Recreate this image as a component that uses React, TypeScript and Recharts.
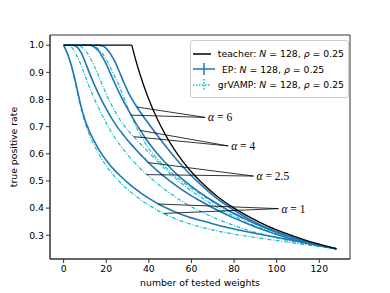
import React from 'react';
import {
  LineChart,
  Line,
  XAxis,
  YAxis,
  Legend,
  ReferenceLine,
  ReferenceArea,
  ReferenceDot,
} from 'recharts';

// number of tested weights
const xs = [0, 2, 4, 6, 8, 10, 12, 14, 16, 18, 20, 22, 24, 26, 28, 30, 32, 34, 36, 38, 40, 44, 48, 52, 56, 60, 64, 72, 80, 88, 96, 104, 112, 120, 128];

// true positive rate
const teacher = [1, 1, 1, 1, 1, 1, 1, 1, 1, 1, 1, 1, 1, 1, 1, 1, 1, 0.941, 0.889, 0.842, 0.8, 0.727, 0.667, 0.615, 0.571, 0.533, 0.5, 0.444, 0.4, 0.364, 0.333, 0.308, 0.286, 0.267, 0.25];

const ep6 = [1, 1, 1, 1, 1, 1, 1, 1, 1, 0.998, 0.988, 0.968, 0.94, 0.905, 0.867, 0.832, 0.802, 0.777, 0.753, 0.731, 0.71, 0.667, 0.627, 0.588, 0.552, 0.519, 0.489, 0.435, 0.392, 0.355, 0.325, 0.302, 0.281, 0.264, 0.25];
const gr6 = [1, 1, 1, 1, 1, 1, 1, 0.997, 0.988, 0.972, 0.948, 0.918, 0.885, 0.852, 0.812, 0.772, 0.735, 0.701, 0.67, 0.643, 0.619, 0.58, 0.549, 0.521, 0.496, 0.473, 0.452, 0.413, 0.378, 0.348, 0.322, 0.299, 0.279, 0.263, 0.25];
const ep4 = [1, 1, 1, 1, 1, 1, 1, 0.995, 0.982, 0.96, 0.93, 0.895, 0.86, 0.826, 0.795, 0.766, 0.738, 0.711, 0.686, 0.662, 0.64, 0.6, 0.565, 0.533, 0.505, 0.48, 0.457, 0.416, 0.38, 0.35, 0.323, 0.3, 0.28, 0.263, 0.25];
const gr4 = [1, 1, 1, 1, 0.995, 0.982, 0.96, 0.93, 0.895, 0.857, 0.82, 0.787, 0.757, 0.731, 0.708, 0.688, 0.67, 0.653, 0.637, 0.621, 0.605, 0.572, 0.541, 0.513, 0.487, 0.463, 0.442, 0.403, 0.37, 0.34, 0.316, 0.295, 0.276, 0.261, 0.25];
const ep25 = [1, 1, 1, 0.995, 0.975, 0.94, 0.9, 0.862, 0.827, 0.795, 0.765, 0.738, 0.713, 0.69, 0.67, 0.65, 0.632, 0.615, 0.598, 0.582, 0.566, 0.537, 0.511, 0.487, 0.465, 0.445, 0.427, 0.393, 0.363, 0.337, 0.314, 0.293, 0.275, 0.261, 0.25];
const gr25 = [1, 1, 0.99, 0.965, 0.93, 0.888, 0.848, 0.81, 0.775, 0.743, 0.713, 0.685, 0.66, 0.637, 0.616, 0.597, 0.579, 0.562, 0.546, 0.531, 0.517, 0.49, 0.465, 0.443, 0.423, 0.405, 0.389, 0.36, 0.336, 0.315, 0.298, 0.283, 0.27, 0.259, 0.25];
const ep1 = [1, 0.965, 0.915, 0.85, 0.78, 0.725, 0.685, 0.652, 0.623, 0.598, 0.576, 0.556, 0.539, 0.523, 0.508, 0.494, 0.481, 0.469, 0.457, 0.446, 0.436, 0.417, 0.401, 0.387, 0.375, 0.364, 0.355, 0.338, 0.323, 0.31, 0.298, 0.286, 0.274, 0.262, 0.25];
const gr1 = [1, 0.965, 0.91, 0.842, 0.772, 0.715, 0.672, 0.637, 0.607, 0.58, 0.556, 0.535, 0.516, 0.499, 0.483, 0.469, 0.456, 0.444, 0.432, 0.421, 0.411, 0.392, 0.376, 0.362, 0.35, 0.34, 0.331, 0.316, 0.304, 0.294, 0.285, 0.276, 0.267, 0.259, 0.25];

const xTicks = [0, 20, 40, 60, 80, 100, 120];
const yTicks = [0.3, 0.4, 0.5, 0.6, 0.7, 0.8, 0.9, 1.0];

// annotation: where each pointer line touches the EP / grVAMP curve, and where the label sits
const alphaLabels = ['6', '4', '2.5', '1'];
const epAnchorX = [34.4, 36.0, 39.8, 44.5];
const grAnchorX = [31.6, 32.8, 39.1, 46.9];
const labelX = [66.4, 77.2, 89.1, 100.8];
const labelY = [0.734, 0.629, 0.518, 0.398];

const EP_COLOR = '#1f77b4';
const GR_COLOR = '#17becf';
const FONT = '"DejaVu Sans", sans-serif';
const SERIF = '"Liberation Serif", "DejaVu Serif", serif';

const data = xs.map((x, i) => ({
  x,
  teacherFlat: x <= 32 ? teacher[i] : null,
  teacherTail: x >= 32 ? teacher[i] : null,
  ep6: ep6[i],
  gr6: gr6[i],
  ep4: ep4[i],
  gr4: gr4[i],
  ep25: ep25[i],
  gr25: gr25[i],
  ep1: ep1[i],
  gr1: gr1[i],
}));

const epSeries = [ep6, ep4, ep25, ep1];
const grSeries = [gr6, gr4, gr25, gr1];

function valueAt(series: number[], x: number) {
  for (let i = 1; i < xs.length; i++) {
    if (x <= xs[i]) {
      const t = (x - xs[i - 1]) / (xs[i] - xs[i - 1]);
      return series[i - 1] + t * (series[i] - series[i - 1]);
    }
  }
  return series[series.length - 1];
}

const legendRows = [
  { name: 'teacher', kind: 'teacher' },
  { name: 'EP', kind: 'ep' },
  { name: 'grVAMP', kind: 'gr' },
];

function LegendIcon({ kind }: { kind: string }) {
  if (kind === 'teacher') {
    return (
      <svg width={22} height={12}>
        <line x1={0} y1={6} x2={22} y2={6} stroke="#000" strokeWidth={1.5} />
      </svg>
    );
  }
  const color = kind === 'ep' ? EP_COLOR : GR_COLOR;
  const dash = kind === 'ep' ? undefined : '1.5 1.5';
  return (
    <svg width={22} height={12}>
      <line x1={0} y1={6} x2={22} y2={6} stroke={color} strokeWidth={1.5} strokeDasharray={dash} />
      <line x1={11} y1={0} x2={11} y2={12} stroke={color} strokeWidth={1.5} strokeDasharray={dash} />
    </svg>
  );
}

function LegendBox() {
  return (
    <div
      style={{
        boxSizing: 'border-box',
        width: 159,
        height: 58,
        border: '1px solid #cccccc',
        borderRadius: 3,
        background: 'rgba(255,255,255,0.8)',
        padding: '0px 4px 0px 2px',
        fontFamily: FONT,
        fontSize: 9.3,
        color: '#000',
        display: 'flex',
        flexDirection: 'column',
        justifyContent: 'center',
      }}
    >
      {legendRows.map((row) => (
        <div key={row.name} style={{ display: 'flex', alignItems: 'center', height: 15.5 }}>
          <LegendIcon kind={row.kind} />
          <span style={{ marginLeft: 7, whiteSpace: 'nowrap' }}>
            {row.name}: <i>N</i> = 128, <i>ρ</i> = 0.25
          </span>
        </div>
      ))}
    </div>
  );
}

function alphaText(label: string) {
  return (p: any) => {
    const vb = p.viewBox || {};
    return (
      <text x={vb.x + 3} y={vb.y} dy="0.35em" fontFamily={SERIF} fontSize={11.5} fill="#000">
        <tspan fontStyle="italic">α</tspan>
        <tspan> = {label}</tspan>
      </text>
    );
  };
}

export default function App() {
  return (
    <div style={{ position: 'fixed', left: 0, top: 0, width: 390, height: 293, background: '#fff' }}>
      <LineChart width={390} height={293} data={data} margin={{ top: 35, right: 40, bottom: 0, left: 0 }}>
        <XAxis
          dataKey="x"
          type="number"
          domain={[-6.4, 134.4]}
          ticks={xTicks}
          allowDataOverflow
          height={34}
          tickSize={4}
          tickMargin={2}
          stroke="#333"
          tick={{ fontSize: 9.3, fill: '#000', fontFamily: FONT }}
          label={{ value: 'number of tested weights', position: 'insideBottom', offset: 7, fontSize: 9.3, fill: '#000', fontFamily: FONT }}
        />
        <YAxis
          type="number"
          domain={[0.2125, 1.0375]}
          ticks={yTicks}
          allowDataOverflow
          width={50}
          tickSize={4}
          tickMargin={2}
          stroke="#333"
          tickFormatter={(v: number) => v.toFixed(1)}
          tick={{ fontSize: 9.3, fill: '#000', fontFamily: FONT }}
          label={{
            value: 'true positive rate',
            angle: -90,
            position: 'insideLeft',
            offset: 14,
            fontSize: 9.3,
            fill: '#000',
            fontFamily: FONT,
            style: { textAnchor: 'middle' },
          }}
        />
        <ReferenceArea x1={-6.4} x2={134.4} y1={0.2125} y2={1.0375} fill="none" stroke="#333" strokeWidth={1} ifOverflow="visible" />

        <Line dataKey="gr1" type="monotone" stroke={GR_COLOR} strokeWidth={1.2} strokeDasharray="4 1.6 1 1.6" dot={false} isAnimationActive={false} />
        <Line dataKey="gr25" type="monotone" stroke={GR_COLOR} strokeWidth={1.2} strokeDasharray="4 1.6 1 1.6" dot={false} isAnimationActive={false} />
        <Line dataKey="gr4" type="monotone" stroke={GR_COLOR} strokeWidth={1.2} strokeDasharray="4 1.6 1 1.6" dot={false} isAnimationActive={false} />
        <Line dataKey="gr6" type="monotone" stroke={GR_COLOR} strokeWidth={1.2} strokeDasharray="4 1.6 1 1.6" dot={false} isAnimationActive={false} />
        <Line dataKey="ep1" type="monotone" stroke={EP_COLOR} strokeWidth={1.6} dot={false} isAnimationActive={false} />
        <Line dataKey="ep25" type="monotone" stroke={EP_COLOR} strokeWidth={1.6} dot={false} isAnimationActive={false} />
        <Line dataKey="ep4" type="monotone" stroke={EP_COLOR} strokeWidth={1.6} dot={false} isAnimationActive={false} />
        <Line dataKey="ep6" type="monotone" stroke={EP_COLOR} strokeWidth={1.6} dot={false} isAnimationActive={false} />
        <Line dataKey="teacherFlat" type="linear" stroke="#000" strokeWidth={1.3} dot={false} isAnimationActive={false} />
        <Line dataKey="teacherTail" type="monotone" stroke="#000" strokeWidth={1.3} dot={false} isAnimationActive={false} />

        {alphaLabels.map((a, i) => (
          <ReferenceLine
            key={`ep-${a}`}
            segment={[
              { x: epAnchorX[i], y: valueAt(epSeries[i], epAnchorX[i]) },
              { x: labelX[i], y: labelY[i] },
            ]}
            stroke="#000"
            strokeWidth={0.8}
            ifOverflow="visible"
          />
        ))}
        {alphaLabels.map((a, i) => (
          <ReferenceLine
            key={`gr-${a}`}
            segment={[
              { x: grAnchorX[i], y: valueAt(grSeries[i], grAnchorX[i]) },
              { x: labelX[i], y: labelY[i] },
            ]}
            stroke="#000"
            strokeWidth={0.8}
            ifOverflow="visible"
          />
        ))}
        {alphaLabels.map((a, i) => (
          <ReferenceDot
            key={`lbl-${a}`}
            x={labelX[i]}
            y={labelY[i]}
            r={0}
            fill="none"
            stroke="none"
            ifOverflow="visible"
            label={alphaText(a)}
          />
        ))}

        <Legend
          layout="vertical"
          align="center"
          verticalAlign="middle"
          wrapperStyle={{ top: 40, left: 190, width: 159, height: 58 }}
          content={() => <LegendBox />}
        />
      </LineChart>
    </div>
  );
}
